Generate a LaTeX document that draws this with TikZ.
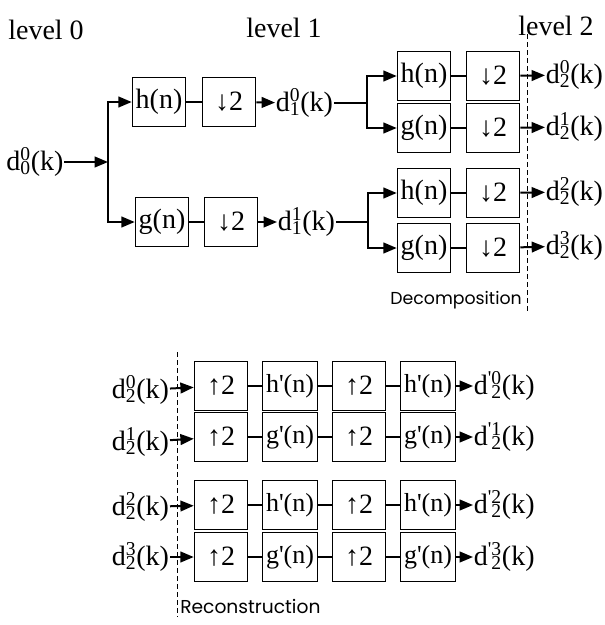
\documentclass[tikz,border=0pt]{standalone}
\usepackage{fontspec}
\setmainfont{Liberation Serif}
\newfontfamily\labelfont{Poppins}
\usetikzlibrary{arrows.meta}

\newcommand\dsig[2]{d\rlap{\textsuperscript{#1}}\textsubscript{#2}(k)}
\newcommand\drsig[2]{d\rlap{\textsuperscript{\textquotesingle#1}}\textsubscript{\hphantom{\textquotesingle}#2}(k)}
\newcommand\dnby{{\bfseries ↓}2}
\newcommand\upby{{\bfseries ↑}2}

\begin{document}
\begin{tikzpicture}[x=0.75pt,y=-0.75pt,
  blk/.style={draw,line width=0.9pt,minimum width=40pt,minimum height=37pt,inner sep=0pt,font=\fontsize{21}{21}\selectfont},
  flt/.style={blk,minimum width=41pt,font=\fontsize{19.5}{20}\selectfont},
  sig/.style={inner sep=0.5pt,font=\fontsize{21}{21}\selectfont},
  arr/.style={line width=1.5pt,-{Triangle[length=10pt,width=8pt]}},
  wire/.style={line width=1.5pt},
  sep/.style={dash pattern=on 4pt off 2pt,line width=0.6pt}]
\useasboundingbox (0,0) rectangle (605,625);
% levels
\node[sig] (lev0) at (46,30) {level 0};
\node[sig] (lev1) at (284,28) {level 1};
\node[sig] (lev2) at (556,26) {level 2};
% decomposition, level 0 -> 1
\node[sig] (in00) at (35,162) {\dsig{0}{0}};
\coordinate (br0) at (108,162);
\node[blk] (h10) at (159,102) {h(n)};
\node[blk] (dn10) at (229,102) {\dnby};
\node[sig,anchor=west] (out10) at (275,103) {\dsig{0}{1}};
\node[blk] (g11) at (162,222) {g(n)};
\node[blk] (dn11) at (231,222) {\dnby};
\node[sig,anchor=west] (out11) at (277,222) {\dsig{1}{1}};
\draw[arr] (in00) -- (br0);
\draw[arr] (br0) |- (h10);
\draw[arr] (br0) |- (g11);
\draw[wire] (h10) -- (dn10);
\draw[arr] (dn10) -- (out10);
\draw[wire] (g11) -- (dn11);
\draw[arr] (dn11) -- (out11);
% level 1 -> 2
\coordinate (br10) at (367,103);
\coordinate (br11) at (368,222);
\node[blk] (h20) at (424,76) {h(n)};
\node[blk] (dn20) at (493,76) {\dnby};
\node[blk] (g21) at (424,128) {g(n)};
\node[blk] (dn21) at (493,128) {\dnby};
\node[blk] (h22) at (424,193) {h(n)};
\node[blk] (dn22) at (493,193) {\dnby};
\node[blk] (g23) at (424,248) {g(n)};
\node[blk] (dn23) at (493,248) {\dnby};
\node[sig,anchor=west] (out20) at (545,75) {\dsig{0}{2}};
\node[sig,anchor=west] (out21) at (545,127) {\dsig{1}{2}};
\node[sig,anchor=west] (out22) at (545,192) {\dsig{2}{2}};
\node[sig,anchor=west] (out23) at (545,246) {\dsig{3}{2}};
\draw[wire] (out10) -- (br10);
\draw[arr] (br10) |- (h20);
\draw[arr] (br10) |- (g21);
\draw[wire] (out11) -- (br11);
\draw[arr] (br11) |- (h22);
\draw[arr] (br11) |- (g23);
\draw[wire] (h20) -- (dn20);
\draw[wire] (g21) -- (dn21);
\draw[wire] (h22) -- (dn22);
\draw[wire] (g23) -- (dn23);
\draw[arr] (dn20) -- (out20);
\draw[arr] (dn21) -- (out21);
\draw[arr] (dn22) -- (out22);
\draw[arr] (dn23) -- (out23);
\draw[sep] (527,34) -- (527,312);
\node[anchor=east,inner sep=0pt,font=\labelfont\fontsize{13}{13}\selectfont] (dec) at (522,300) {Decomposition};
% reconstruction
\draw[sep] (177,352) -- (177,617);
\node[anchor=west,inner sep=0pt,font=\labelfont\fontsize{14}{14}\selectfont] (rec) at (180,606) {Reconstruction};
\node[sig,anchor=east] (in0) at (170,390) {\dsig{0}{2}};
\node[sig,anchor=east] (in1) at (170,442) {\dsig{1}{2}};
\node[sig,anchor=east] (in2) at (170,507) {\dsig{2}{2}};
\node[sig,anchor=east] (in3) at (170,557) {\dsig{3}{2}};
\node[blk] (up0a) at (221,386) {\upby};
\node[flt] (f0a) at (290,386) {h\textquotesingle(n)};
\node[blk] (up0b) at (359,386) {\upby};
\node[flt] (f0b) at (428,386) {h\textquotesingle(n)};
\node[blk] (up1a) at (221,437) {\upby};
\node[flt] (f1a) at (290,437) {g\textquotesingle(n)};
\node[blk] (up1b) at (359,437) {\upby};
\node[flt] (f1b) at (428,437) {g\textquotesingle(n)};
\node[blk] (up2a) at (221,505) {\upby};
\node[flt] (f2a) at (290,505) {h\textquotesingle(n)};
\node[blk] (up2b) at (359,505) {\upby};
\node[flt] (f2b) at (428,505) {h\textquotesingle(n)};
\node[blk] (up3a) at (221,557) {\upby};
\node[flt] (f3a) at (290,557) {g\textquotesingle(n)};
\node[blk] (up3b) at (359,557) {\upby};
\node[flt] (f3b) at (428,557) {g\textquotesingle(n)};
\node[sig,anchor=west] (rec0) at (473,386) {\drsig{0}{2}};
\node[sig,anchor=west] (rec1) at (473,437) {\drsig{1}{2}};
\node[sig,anchor=west] (rec2) at (473,505) {\drsig{2}{2}};
\node[sig,anchor=west] (rec3) at (473,557) {\drsig{3}{2}};
\draw[arr] (in0) -- (up0a);
\draw[arr] (in1) -- (up1a);
\draw[arr] (in2) -- (up2a);
\draw[arr] (in3) -- (up3a);
\draw[wire] (up0a) -- (f0a);
\draw[wire] (f0a) -- (up0b);
\draw[wire] (up0b) -- (f0b);
\draw[wire] (up1a) -- (f1a);
\draw[wire] (f1a) -- (up1b);
\draw[wire] (up1b) -- (f1b);
\draw[wire] (up2a) -- (f2a);
\draw[wire] (f2a) -- (up2b);
\draw[wire] (up2b) -- (f2b);
\draw[wire] (up3a) -- (f3a);
\draw[wire] (f3a) -- (up3b);
\draw[wire] (up3b) -- (f3b);
\draw[arr] (f0b) -- (rec0);
\draw[arr] (f1b) -- (rec1);
\draw[arr] (f2b) -- (rec2);
\draw[arr] (f3b) -- (rec3);
\end{tikzpicture}
\end{document}
